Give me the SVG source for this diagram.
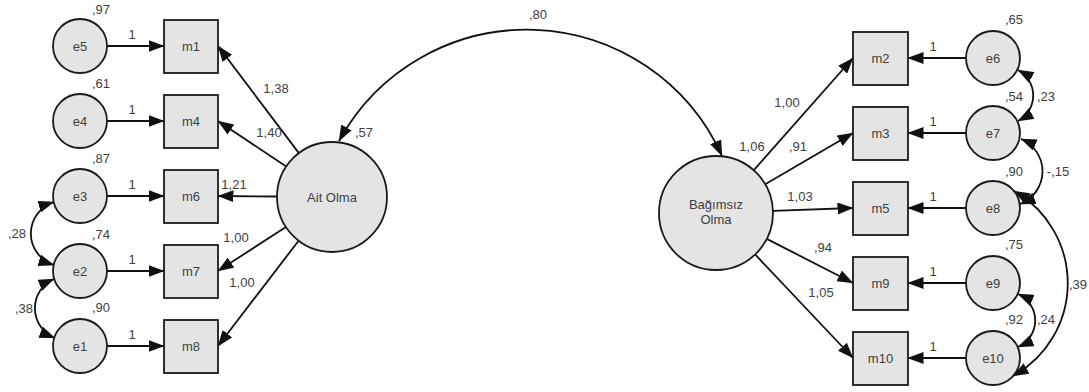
<svg xmlns="http://www.w3.org/2000/svg" width="1089" height="392" viewBox="0 0 1089 392">
<defs>
<style>
.n{fill:#e4e4e4;stroke:#1a1a1a;stroke-width:1.8}
.c{fill:none;stroke:#111;stroke-width:1.8}
.a{marker-end:url(#ah)}
.b{marker-start:url(#ah);marker-end:url(#ah)}
text{font-family:"Liberation Sans",Arial,sans-serif;font-size:13px;fill:#404040}
.t{text-anchor:middle}
</style>
<marker id="ah" viewBox="0 0 16 12" markerWidth="16" markerHeight="12" refX="15.5" refY="6" markerUnits="userSpaceOnUse" orient="auto-start-reverse">
<path d="M0,0 L16,6 L0,12 z" fill="#111"/>
</marker>
</defs>
<rect width="1089" height="392" fill="#fff"/>

<g id="connectors">
<!-- left error to items -->
<line class="c a" x1="107" y1="46" x2="164" y2="46"/>
<line class="c a" x1="107" y1="121" x2="164" y2="121"/>
<line class="c a" x1="107" y1="196" x2="164" y2="196"/>
<line class="c a" x1="107" y1="271" x2="164" y2="271"/>
<line class="c a" x1="107" y1="346" x2="164" y2="346"/>
<!-- Ait Olma to items -->
<line class="c a" x1="298.9" y1="153.1" x2="218" y2="46"/>
<line class="c a" x1="286.2" y1="166.5" x2="218" y2="121"/>
<line class="c a" x1="277" y1="196.5" x2="218" y2="196"/>
<line class="c a" x1="285.9" y1="226.9" x2="218" y2="271"/>
<line class="c a" x1="298.6" y1="240.7" x2="218" y2="346"/>
<!-- Bagimsiz Olma to items -->
<line class="c a" x1="753.7" y1="170.3" x2="853" y2="58"/>
<line class="c a" x1="765.2" y1="184.2" x2="853" y2="133"/>
<line class="c a" x1="773" y1="210.9" x2="853" y2="208"/>
<line class="c a" x1="766.8" y1="238.9" x2="853" y2="283"/>
<line class="c a" x1="755.1" y1="254.4" x2="853" y2="358"/>
<!-- right error to items -->
<line class="c a" x1="966" y1="58" x2="908" y2="58"/>
<line class="c a" x1="966" y1="133" x2="908" y2="133"/>
<line class="c a" x1="966" y1="208" x2="908" y2="208"/>
<line class="c a" x1="966" y1="283" x2="908" y2="283"/>
<line class="c a" x1="966" y1="358" x2="908" y2="358"/>
<!-- covariances -->
<path class="c b" d="M339,141 A214,214 0 0 1 722,156"/>
<path class="c b" d="M54,202 A33,33 0 0 0 54,265"/>
<path class="c b" d="M54,279 A32,32 0 0 0 55,338"/>
<path class="c b" d="M1018,70 A29,29 0 0 1 1018,121"/>
<path class="c b" d="M1021,139 A35,35 0 0 1 1020,204"/>
<path class="c b" d="M1014,191 A106,106 0 0 1 1013,376"/>
<path class="c b" d="M1018,294 A29,29 0 0 1 1018,347"/>
<!-- labels -->
<text class="t" x="132" y="39">1</text>
<text class="t" x="132" y="114">1</text>
<text class="t" x="132" y="189">1</text>
<text class="t" x="132" y="264">1</text>
<text class="t" x="132" y="339">1</text>
<text class="t" x="933" y="51">1</text>
<text class="t" x="933" y="126">1</text>
<text class="t" x="933" y="201">1</text>
<text class="t" x="933" y="276">1</text>
<text class="t" x="933" y="351">1</text>
<text class="t" x="276" y="93">1,38</text>
<text class="t" x="269" y="137">1,40</text>
<text class="t" x="234" y="189">1,21</text>
<text class="t" x="236" y="242">1,00</text>
<text class="t" x="242" y="287">1,00</text>
<text class="t" x="787" y="107">1,00</text>
<text class="t" x="752" y="151">1,06</text>
<text class="t" x="798" y="151">,91</text>
<text class="t" x="800" y="201">1,03</text>
<text class="t" x="823" y="252">,94</text>
<text class="t" x="821" y="297">1,05</text>
<text class="t" x="538" y="19">,80</text>
<text class="t" x="364" y="137">,57</text>
<text class="t" x="17" y="238">,28</text>
<text class="t" x="24" y="313">,38</text>
<text class="t" x="1046" y="101">,23</text>
<text class="t" x="1058" y="176">-,15</text>
<text class="t" x="1046" y="324">,24</text>
<text x="1069" y="289">,39</text>
<!-- variances -->
<text class="t" x="101" y="14">,97</text>
<text class="t" x="101" y="88">,61</text>
<text class="t" x="101" y="163">,87</text>
<text class="t" x="101" y="239">,74</text>
<text class="t" x="101" y="312">,90</text>
<text class="t" x="1014" y="24">,65</text>
<text class="t" x="1014" y="101">,54</text>
<text class="t" x="1014" y="176">,90</text>
<text class="t" x="1014" y="249">,75</text>
<text class="t" x="1014" y="324">,92</text>
</g>

<g id="e5"><circle class="n" cx="80" cy="46" r="27"/><text class="t" x="80" y="51">e5</text></g>
<g id="e4"><circle class="n" cx="80" cy="121" r="27"/><text class="t" x="80" y="126">e4</text></g>
<g id="e3"><circle class="n" cx="80" cy="196" r="27"/><text class="t" x="80" y="201">e3</text></g>
<g id="e2"><circle class="n" cx="80" cy="271" r="27"/><text class="t" x="80" y="276">e2</text></g>
<g id="e1"><circle class="n" cx="80" cy="346" r="27"/><text class="t" x="80" y="351">e1</text></g>

<g id="m1"><rect class="n" x="164" y="20" width="54" height="53"/><text class="t" x="191" y="51">m1</text></g>
<g id="m4"><rect class="n" x="164" y="95" width="54" height="53"/><text class="t" x="191" y="126">m4</text></g>
<g id="m6"><rect class="n" x="164" y="170" width="54" height="53"/><text class="t" x="191" y="201">m6</text></g>
<g id="m7"><rect class="n" x="164" y="245" width="54" height="53"/><text class="t" x="191" y="276">m7</text></g>
<g id="m8"><rect class="n" x="164" y="320" width="54" height="53"/><text class="t" x="191" y="351">m8</text></g>

<g id="ait-olma"><circle class="n" cx="332" cy="197" r="55"/><text class="t" x="332" y="202">Ait Olma</text></g>
<g id="bagimsiz-olma"><circle class="n" cx="716" cy="213" r="57"/><text class="t" x="716" y="209">Bağımsız</text><text class="t" x="716" y="224">Olma</text></g>

<g id="m2"><rect class="n" x="853" y="32" width="55" height="53"/><text class="t" x="880.5" y="63">m2</text></g>
<g id="m3"><rect class="n" x="853" y="107" width="55" height="53"/><text class="t" x="880.5" y="138">m3</text></g>
<g id="m5"><rect class="n" x="853" y="182" width="55" height="53"/><text class="t" x="880.5" y="213">m5</text></g>
<g id="m9"><rect class="n" x="853" y="257" width="55" height="53"/><text class="t" x="880.5" y="288">m9</text></g>
<g id="m10"><rect class="n" x="853" y="332" width="55" height="53"/><text class="t" x="880.5" y="363">m10</text></g>

<g id="e6"><circle class="n" cx="993" cy="58" r="27"/><text class="t" x="993" y="63">e6</text></g>
<g id="e7"><circle class="n" cx="993" cy="133" r="27"/><text class="t" x="993" y="138">e7</text></g>
<g id="e8"><circle class="n" cx="993" cy="208" r="27"/><text class="t" x="993" y="213">e8</text></g>
<g id="e9"><circle class="n" cx="993" cy="283" r="27"/><text class="t" x="993" y="288">e9</text></g>
<g id="e10"><circle class="n" cx="993" cy="358" r="27"/><text class="t" x="993" y="363">e10</text></g>
</svg>
